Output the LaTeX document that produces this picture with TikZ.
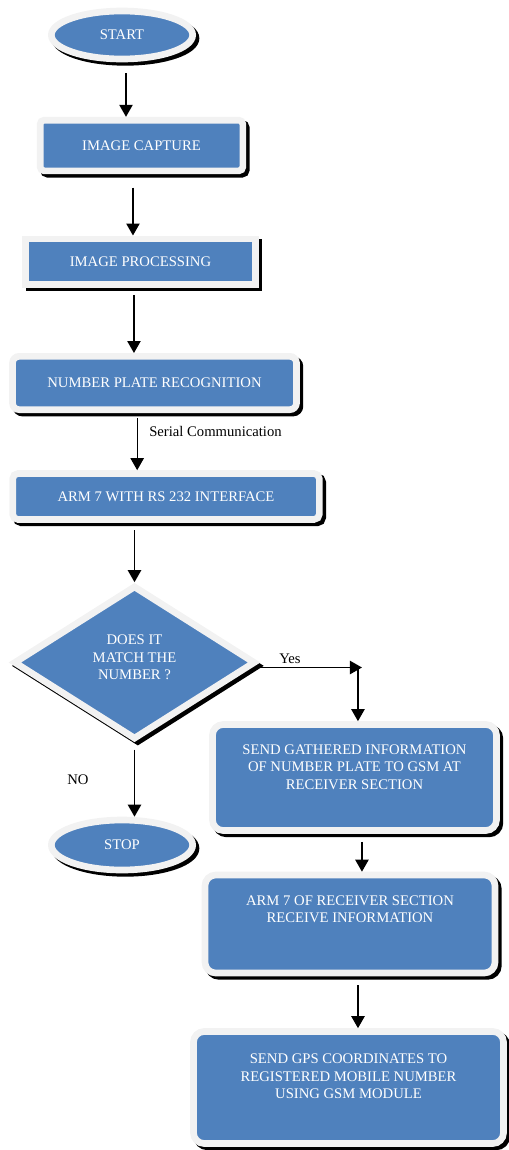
\documentclass[tikz,border=0pt]{standalone}
\usepackage{fontspec}
\setmainfont{Liberation Serif}
\usetikzlibrary{shapes.geometric,shadows,arrows.meta}
\definecolor{flowblue}{RGB}{79,129,189}
\definecolor{rimgray}{RGB}{242,242,242}
\tikzset{
  flowbox/.style={draw=rimgray, fill=flowblue, line width=5pt, text=white,
    font=\fontsize{11}{13}\selectfont, align=center, inner sep=0pt,
    drop shadow={shadow xshift=2.5pt, shadow yshift=-2.5pt, fill=black, draw=black, line width=5pt, opacity=1}},
  termbox/.style={flowbox, ellipse, minimum width=106pt, minimum height=36pt},
  stepbox/.style={flowbox, rectangle, rounded corners=#1},
  stepbox/.default=4pt,
  flowline/.style={line width=1pt, -{Triangle[width=10pt,length=9pt]}},
  plaintext/.style={font=\fontsize{11}{13}\selectfont, inner sep=0pt}
}
\begin{document}
\begin{tikzpicture}[x=0.75pt,y=0.75pt,yscale=-1,xscale=1]
\useasboundingbox (0,0) rectangle (508,1150);

% Terminals
\node[termbox] (start) at (122,35) {START};
\node[termbox, minimum height=37.5pt] (stop) at (122,845) {STOP};

% Process boxes
\node[stepbox=3pt, minimum width=152pt, minimum height=38pt] (capture) at (141.5,145.5) {IMAGE CAPTURE};
\node[flowbox, rectangle, minimum width=172.5pt, minimum height=34pt] (process) at (140.5,261.5) {IMAGE PROCESSING};
\node[stepbox=5pt, minimum width=213pt, minimum height=40pt] (recog) at (154.5,383) {NUMBER PLATE RECOGNITION};
\node[stepbox=4pt, minimum width=230pt, minimum height=34.5pt] (arm) at (166,496.5) {ARM 7 WITH RS 232 INTERFACE};

% Decision
\node[flowbox, diamond, minimum width=181.5pt, minimum height=115.5pt, text depth=8pt] (decide) at (134.5,662.5) {DOES IT\\MATCH THE\\NUMBER ?};

% Receiver side
\node[stepbox=8pt, minimum width=213pt, minimum height=79.5pt, text depth=16pt] (gather) at (354.5,777.5) {SEND GATHERED INFORMATION\\OF NUMBER PLATE TO GSM AT\\RECEIVER SECTION};
\node[stepbox=8pt, minimum width=217.5pt, minimum height=73.5pt, text depth=22pt] (rxarm) at (350,924) {ARM 7 OF RECEIVER SECTION\\RECEIVE INFORMATION};
\node[stepbox=8pt, minimum width=232.5pt, minimum height=84pt, text depth=17pt] (gps) at (348.5,1087.5) {SEND GPS COORDINATES TO\\REGISTERED MOBILE NUMBER\\USING GSM MODULE};

% Text Node
\node[plaintext, anchor=west] (serial) at (149,431) {Serial Communication};
% Text Node
\node[plaintext] (yeslbl) at (290,659) {Yes};
% Text Node
\node[plaintext] (nolbl) at (78,780) {NO};

\path (decide.east) ++(0,5) coordinate (yesstart);
\coordinate (yesturn) at ([xshift=5.6pt]gather.north |- yesstart);

%Straight Lines
\draw[flowline, shorten <=8pt] ([xshift=3pt]start.south) -- ([xshift=3pt]start.south |- capture.north);
\draw[flowline, shorten <=10pt] ([xshift=-6.4pt]capture.south) -- ([xshift=-6.4pt]capture.south |- process.north);
\draw[flowline, shorten <=5.8pt] ([xshift=-4.9pt]process.south) -- ([xshift=-4.9pt]process.south |- recog.north);
\draw[flowline, shorten <=4pt] ([xshift=-13pt]recog.south) -- ([xshift=-13pt]recog.south |- arm.north);
\draw[flowline, shorten <=5.4pt] (decide.north |- arm.south) -- (decide.north);
\draw[flowline, shorten <=5pt] (decide.south) -- (decide.south |- stop.north);
\draw[flowline] (yesstart) -- (yesturn);
\draw[flowline] ([xshift=-3pt]yesturn) -- ([xshift=2.6pt]gather.north);
\draw[flowline, shorten <=6pt] ([xshift=5.6pt]gather.south) -- ([xshift=5.6pt]gather.south |- rxarm.north);
\draw[flowline, shorten <=6.5pt] ([xshift=6pt]rxarm.south) -- ([xshift=6pt]rxarm.south |- gps.north);

\end{tikzpicture}
\end{document}
